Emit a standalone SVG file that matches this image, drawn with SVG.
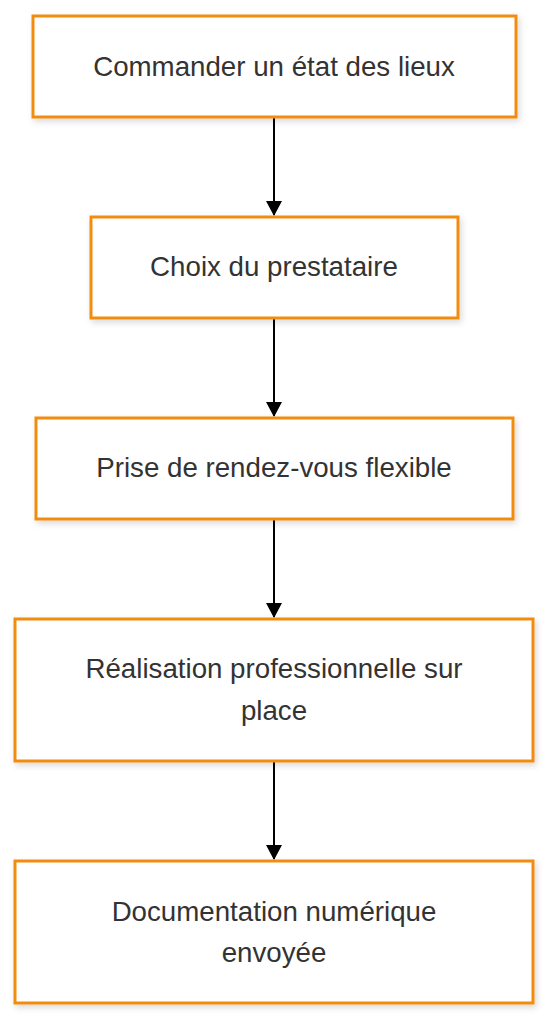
<svg xmlns="http://www.w3.org/2000/svg" width="551" height="1024" viewBox="0 0 551 1024">
<defs>
<style>
.box{fill:#fff;stroke:#f28c0f;stroke-width:3}
.t{font-family:"Liberation Sans",Arial,sans-serif;font-size:27.7px;fill:#333;text-anchor:middle}
.c{stroke:#000;stroke-width:2;fill:none}
</style>
<filter id="sh" x="-10%" y="-10%" width="120%" height="130%">
<feDropShadow dx="2" dy="3" stdDeviation="3" flood-color="#000" flood-opacity="0.15"/>
</filter>
<marker id="ah" markerWidth="15" markerHeight="16" refX="14" refY="8" orient="auto" markerUnits="userSpaceOnUse">
<path d="M0,0 L15,8 L0,16 Z" fill="#000"/>
</marker>
</defs>
<rect width="551" height="1024" fill="#fff"/>
<g id="connectors">
<line class="c" x1="274" y1="118" x2="274" y2="215" marker-end="url(#ah)"/>
<line class="c" x1="274" y1="319" x2="274" y2="416" marker-end="url(#ah)"/>
<line class="c" x1="274" y1="520" x2="274" y2="617" marker-end="url(#ah)"/>
<line class="c" x1="274" y1="762" x2="274" y2="859" marker-end="url(#ah)"/>
</g>
<g id="n1"><rect class="box" filter="url(#sh)" x="33" y="16" width="483" height="101"/><text class="t" x="274" y="76">Commander un état des lieux</text></g>
<g id="n2"><rect class="box" filter="url(#sh)" x="91" y="217" width="367" height="101"/><text class="t" x="274" y="276">Choix du prestataire</text></g>
<g id="n3"><rect class="box" filter="url(#sh)" x="36" y="418" width="477" height="101"/><text class="t" x="274" y="477">Prise de rendez-vous flexible</text></g>
<g id="n4"><rect class="box" filter="url(#sh)" x="15" y="619" width="518" height="142"/><text class="t" x="274" y="678">Réalisation professionnelle sur</text><text class="t" x="274" y="720">place</text></g>
<g id="n5"><rect class="box" filter="url(#sh)" x="15" y="861" width="518" height="142"/><text class="t" x="274" y="921">Documentation numérique</text><text class="t" x="274" y="962">envoyée</text></g>
</svg>
